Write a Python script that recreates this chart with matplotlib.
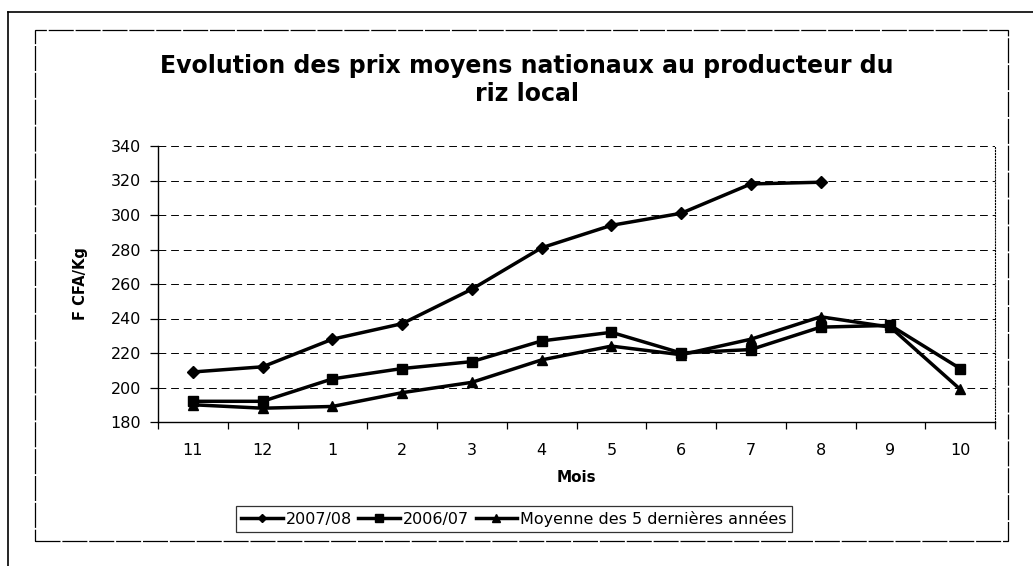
import matplotlib
matplotlib.use("Agg")
import matplotlib.pyplot as plt
from matplotlib.patches import Rectangle
from matplotlib.lines import Line2D
import numpy as np

months = ["11", "12", "1", "2", "3", "4", "5", "6", "7", "8", "9", "10"]
s_2007_08 = [209, 212, 228, 237, 257, 281, 294, 301, 318, 319, None, None]
s_2006_07 = [192, 192, 205, 211, 215, 227, 232, 220, 222, 235, 236, 211]
s_moyenne = [190, 188, 189, 197, 203, 216, 224, 219, 228, 241, 235, 199]
yticks = [180, 200, 220, 240, 260, 280, 300, 320, 340]

W, H = 1033, 566
plt.rcParams['font.family'] = ['DejaVu Sans']
fig = plt.figure(figsize=(W / 100, H / 100), dpi=100)

# frames
fig.add_artist(Line2D([8 / W, 8 / W], [0, 1 - 12 / H], color='black', lw=1.2))
fig.add_artist(Line2D([8 / W, 1], [1 - 12 / H, 1 - 12 / H], color='black', lw=1.2))
fig.add_artist(Rectangle((35 / W, 1 - 541 / H), (1008 - 35) / W, (541 - 30) / H,
                         fill=False, ec='black', lw=0.9, ls=(0, (20, 1.5))))

ax = fig.add_axes([158 / W, 1 - 422 / H, (995 - 158) / W, (422 - 146) / H])
x = np.arange(len(months))

def arr(v):
    return np.array([np.nan if a is None else a for a in v], dtype=float)

ax.plot(x, arr(s_2007_08), color='black', lw=2.5, marker='D', ms=6.5, label='2007/08')
ax.plot(x, arr(s_2006_07), color='black', lw=2.5, marker='s', ms=7.5, label='2006/07')
ax.plot(x, arr(s_moyenne), color='black', lw=2.5, marker='^', ms=7.5,
        label='Moyenne des 5 dernières années')

ax.set_xlim(-0.5, len(months) - 0.5)
ax.set_ylim(180, 340)
ax.set_yticks(yticks)
ax.set_xticks(x)
ax.set_xticklabels(months)
ax.set_xticks(np.arange(-0.5, len(months)), minor=True)
ax.tick_params(axis='x', which='major', length=0, pad=15, labelsize=11.5)
ax.tick_params(axis='x', which='minor', length=5, direction='out', width=0.9)
ax.tick_params(axis='y', length=6, direction='out', width=0.9, labelsize=11.5, pad=6)
for t in yticks[1:]:
    ax.axhline(t, color='black', lw=0.7, ls=(0, (8, 5)), zorder=0)
ax.spines['top'].set_visible(False)
ax.spines['right'].set_linestyle(':')
ax.spines['right'].set_linewidth(0.8)
ax.spines['left'].set_linewidth(1.0)
ax.spines['bottom'].set_linewidth(1.0)

ax.set_xlabel('Mois', fontweight='bold', fontsize=11, labelpad=9)
ax.set_ylabel('F CFA/Kg', fontweight='bold', fontsize=10.5, labelpad=16)

fig.text(527 / W, 1 - 66 / H, 'Evolution des prix moyens nationaux au producteur du',
         ha='center', va='center', fontsize=17, fontweight='bold')
fig.text(527 / W, 1 - 94 / H, 'riz local', ha='center', va='center',
         fontsize=17, fontweight='bold')

leg = fig.legend(loc='center', bbox_to_anchor=(514 / W, 1 - 519 / H), ncol=3,
                 frameon=True, fancybox=False, edgecolor='black', fontsize=11.5,
                 handlelength=2.6, handletextpad=0.2, columnspacing=0.4,
                 borderpad=0.3, markerscale=0.7)
leg.get_frame().set_linewidth(0.9)

fig.savefig('out.png', dpi=100)
